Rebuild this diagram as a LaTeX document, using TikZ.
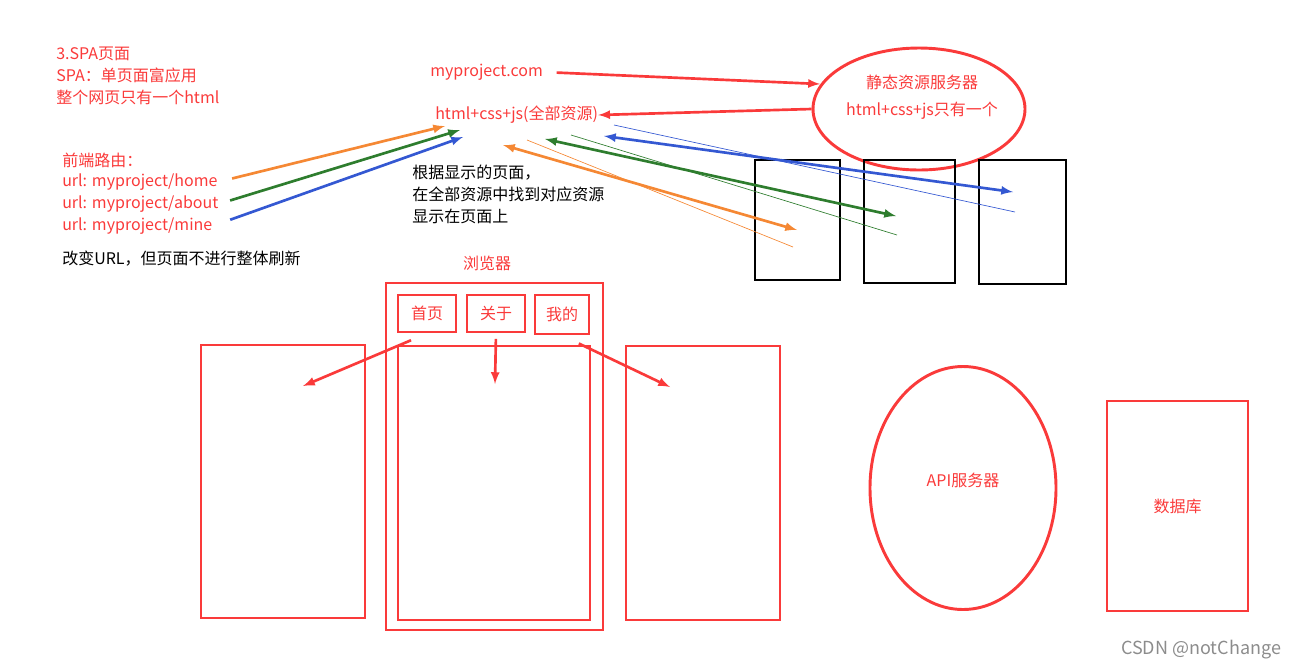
\documentclass[tikz,border=0pt]{standalone}
\usepackage{fontspec}
\setmainfont{Noto Sans CJK SC}
\usepackage{xcolor}
\usetikzlibrary{positioning,arrows,shapes.geometric}

\definecolor{spared}{RGB}{250,58,58}
\definecolor{spaorange}{RGB}{245,136,52}
\definecolor{spagreen}{RGB}{46,125,46}
\definecolor{spablue}{RGB}{52,88,210}

\begin{document}
\begin{tikzpicture}[
    x=0.75pt,y=-0.75pt,
    txt/.style={
      inner sep=0pt,
      font=\fontsize{12}{16.5}\selectfont,
      align=left
    },
    redtxt/.style={txt,text=spared},
    redbox/.style={
      draw=spared,
      line width=2.2pt,
      inner sep=0pt,
      font=\fontsize{12}{16.5}\selectfont,
      text=spared
    },
    pagebox/.style={
      draw=black,
      line width=2.2pt,
      inner sep=0pt
    },
    redoval/.style={
      redbox,
      ellipse
    },
    link/.style={line width=2pt,-latex},
    thinlink/.style={line width=0.5pt}
    ]
    \useasboundingbox (0,0) rectangle (1299,669);

    % texts on the left
    \node[redtxt,anchor=north west] at (56,47) (intro)
      {3.SPA页面\\SPA：单页面富应用\\整个网页只有一个html};
    \node[redtxt,anchor=west] at (62,160) (routes) {前端路由：};
    \node[redtxt,anchor=west] at (62,182) (urlhome) {url: myproject/home};
    \node[redtxt,anchor=west] at (62,204) (urlabout) {url: myproject/about};
    \node[redtxt,anchor=west] at (62,226) (urlmine) {url: myproject/mine};
    \node[txt,anchor=west] at (62,259) (nofresh) {改变URL，但页面不进行整体刷新};

    % resources
    \node[redtxt,anchor=west] at (430,72) (domain) {myproject.com};
    \node[redtxt,anchor=west] at (435,115) (res) {html+css+js(全部资源)};
    \node[txt,anchor=north west] at (412,165) (hint)
      {根据显示的页面，\\在全部资源中找到对应资源\\显示在页面上};

    \node[redoval,minimum width=159pt,minimum height=91.5pt] at (919,109) (server) {};
    \node[redtxt] at (922,82) (srvname) {静态资源服务器};
    \node[redtxt] at (922,111) (srvfiles) {html+css+js只有一个};

    % pages
    \node[pagebox,minimum width=63.75pt,minimum height=90pt] at (797.5,220) (page1) {};
    \node[pagebox,minimum width=68.25pt,minimum height=92.25pt] at (909.5,221.5) (page2) {};
    \node[pagebox,minimum width=65.25pt,minimum height=93pt] at (1022.5,222) (page3) {};

    % browser
    \node[redtxt] at (487,263) (browsertitle) {浏览器};
    \node[redbox,minimum width=162.75pt,minimum height=260.25pt] at (494.5,456.5) (browser) {};
    \node[redbox,minimum width=43.5pt,minimum height=27.75pt] at (427,313.5) (tabhome) {首页};
    \node[redbox,minimum width=43.5pt,minimum height=27.75pt] at (496,313.5) (tababout) {关于};
    \node[redbox,minimum width=40.5pt,minimum height=29.25pt] at (562,314.5) (tabmine) {我的};
    \node[redbox,minimum width=144pt,minimum height=205.5pt] at (494,483) (content) {};
    \node[redbox,minimum width=123pt,minimum height=204.75pt] at (283,481.5) (leftpage) {};
    \node[redbox,minimum width=115.5pt,minimum height=205.5pt] at (703,483) (rightpage) {};

    % backend
    \node[redoval,minimum width=139.5pt,minimum height=182.25pt] at (963,488) (api)
      {\raisebox{6pt}[\height][\depth]{API服务器}};
    \node[redbox,minimum width=105.75pt,minimum height=157.5pt] at (1177.5,506) (db) {数据库};

    \node[inner sep=0pt,text=black!45,font=\fontsize{13.5}{16}\selectfont] at (1201,650)
      (mark) {CSDN @notChange};

    \coordinate (srvin) at (820,84);
    \coordinate (inhome) at (445,126);
    \coordinate (inabout) at (460,130);
    \coordinate (inmine) at (463,137);
    \coordinate (ohead) at (503,145);
    \coordinate (ghead) at (545,139);
    \coordinate (bhead) at (604,136);
    \coordinate (otail) at (797,230);
    \coordinate (gtail) at (896,216);
    \coordinate (btail) at (1013,192);
    \coordinate (othin) at (527,140);
    \coordinate (gthin) at (571,135);
    \coordinate (bthin) at (614,125);
    \coordinate (othinend) at (793,247);
    \coordinate (gthinend) at (897,235);
    \coordinate (bthinend) at (1015,212);
    \coordinate (leftin) at (303,386);
    \coordinate (midin) at (495,384);
    \coordinate (rightin) at (670,387);

    \draw[link,spared,shorten <=10pt] (domain.east) -- (srvin);
    \draw[link,spared] (server.west) -- (res.east);

    \draw[link,spaorange,shorten <=11pt] (urlhome.east) -- (inhome);
    \draw[link,spagreen,shorten <=9pt] (urlabout.east) -- (inabout);
    \draw[link,spablue,shorten <=14pt] (urlmine.east) -- (inmine);

    \draw[link,latex-latex,spaorange] (ohead) -- (otail);
    \draw[link,latex-latex,spagreen] (ghead) -- (gtail);
    \draw[link,latex-latex,spablue] (bhead) -- (btail);
    \draw[thinlink,spaorange] (othin) -- (othinend);
    \draw[thinlink,spagreen] (gthin) -- (gthinend);
    \draw[thinlink,spablue] (bthin) -- (bthinend);

    \draw[link,spared,shorten <=13pt] (tabhome.south) -- (leftin);
    \draw[link,spared,shorten <=4pt] (tababout.south) -- (midin);
    \draw[link,spared,shorten <=14pt] (tabmine.south) -- (rightin);
\end{tikzpicture}
\end{document}
